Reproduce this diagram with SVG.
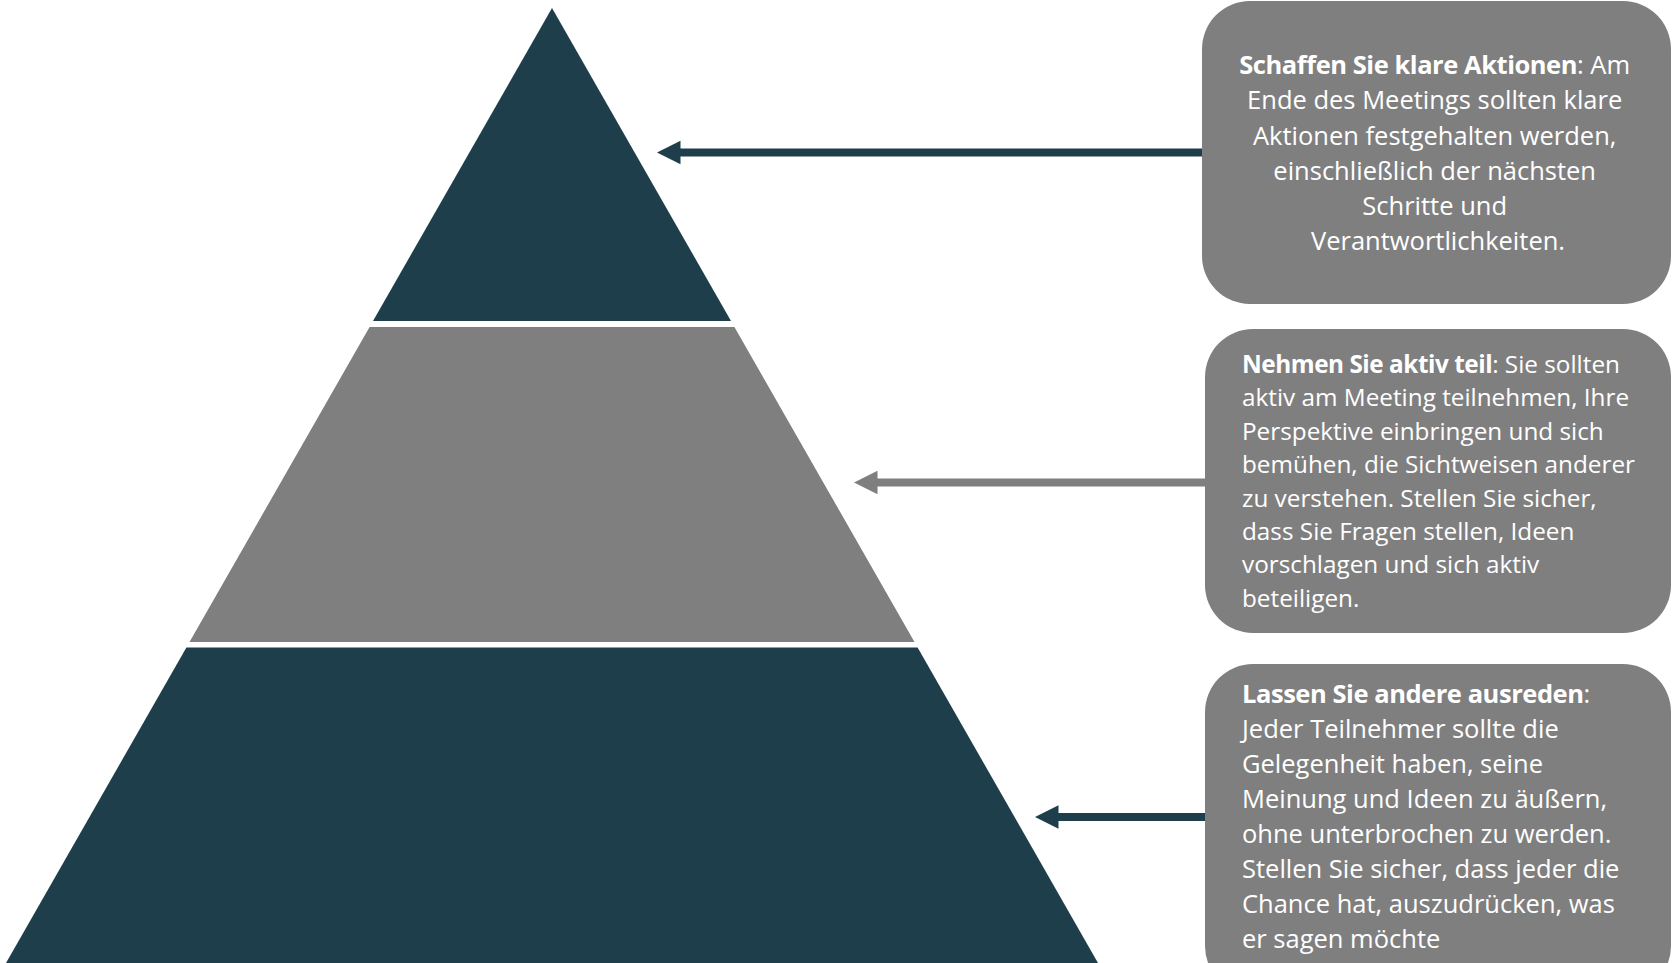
<svg xmlns="http://www.w3.org/2000/svg" width="1672" height="963" viewBox="0 0 1672 963">
<defs>
<style>
.dark{fill:#1F3E4B}
.gray{fill:#7F7F7F}
.box{fill:#7F7F7F}
.t{font-family:"Open Sans","DejaVu Sans",sans-serif;fill:#FFFFFF}
.t1{font-size:25.5px}
.t2{font-size:24.3px}
.b{font-weight:700;letter-spacing:-0.45px}
.ln{fill:none;stroke-width:8;stroke-linecap:round}
</style>
</defs>
<rect width="1672" height="963" fill="#FFFFFF"/>
<g id="pyramid">
<polygon id="tier-top" class="dark" points="552,8 731,321 373,321"/>
<polygon id="tier-middle" class="gray" points="369.6,327 734.4,327 914.5,642 189.5,642"/>
<polygon id="tier-bottom" class="dark" points="186.4,647.5 917.6,647.5 1098,963 6,963"/>
</g>
<g id="connectors">
<path class="ln" stroke="#1F3E4B" d="M1207,152.5 H676" />
<path d="M657,152.5 L680.5,140.8 L680.5,164.2 Z" fill="#1F3E4B"/>
<path class="ln" stroke="#7F7F7F" d="M1205,482.5 H873" />
<path d="M854,482.5 L877.5,470.8 L877.5,494.2 Z" fill="#7F7F7F"/>
<path class="ln" stroke="#1F3E4B" d="M1210,817 H1054" />
<path d="M1035,817 L1058.5,805.3 L1058.5,828.7 Z" fill="#1F3E4B"/>
</g>
<g id="box-aktionen">
<rect class="box" x="1202" y="1" width="469" height="303" rx="48" ry="48"/>
<text class="t t1" text-anchor="middle">
<tspan x="1438" y="74"><tspan class="b">Schaffen Sie klare Aktionen</tspan>: Am</tspan>
<tspan x="1438" y="109">Ende des Meetings sollten klare</tspan>
<tspan x="1438" y="145">Aktionen festgehalten werden,</tspan>
<tspan x="1438" y="180">einschließlich der nächsten</tspan>
<tspan x="1438" y="215">Schritte und</tspan>
<tspan x="1438" y="250">Verantwortlichkeiten.</tspan>
</text>
</g>
<g id="box-teilnehmen">
<rect class="box" x="1205" y="329" width="466" height="304" rx="48" ry="48"/>
<text class="t t2">
<tspan x="1242" y="373"><tspan class="b">Nehmen Sie aktiv teil</tspan>: Sie sollten</tspan>
<tspan x="1242" y="406.4">aktiv am Meeting teilnehmen, Ihre</tspan>
<tspan x="1242" y="439.8">Perspektive einbringen und sich</tspan>
<tspan x="1242" y="473.2">bemühen, die Sichtweisen anderer</tspan>
<tspan x="1242" y="506.6">zu verstehen. Stellen Sie sicher,</tspan>
<tspan x="1242" y="540">dass Sie Fragen stellen, Ideen</tspan>
<tspan x="1242" y="573.4">vorschlagen und sich aktiv</tspan>
<tspan x="1242" y="607">beteiligen.</tspan>
</text>
</g>
<g id="box-ausreden">
<rect class="box" x="1205" y="664" width="466" height="330" rx="48" ry="48"/>
<text class="t t1">
<tspan x="1242" y="703"><tspan class="b">Lassen Sie andere ausreden</tspan>:</tspan>
<tspan x="1242" y="738">Jeder Teilnehmer sollte die</tspan>
<tspan x="1242" y="773">Gelegenheit haben, seine</tspan>
<tspan x="1242" y="808">Meinung und Ideen zu äußern,</tspan>
<tspan x="1242" y="843">ohne unterbrochen zu werden.</tspan>
<tspan x="1242" y="878">Stellen Sie sicher, dass jeder die</tspan>
<tspan x="1242" y="913">Chance hat, auszudrücken, was</tspan>
<tspan x="1242" y="948">er sagen möchte</tspan>
</text>
</g>
</svg>
